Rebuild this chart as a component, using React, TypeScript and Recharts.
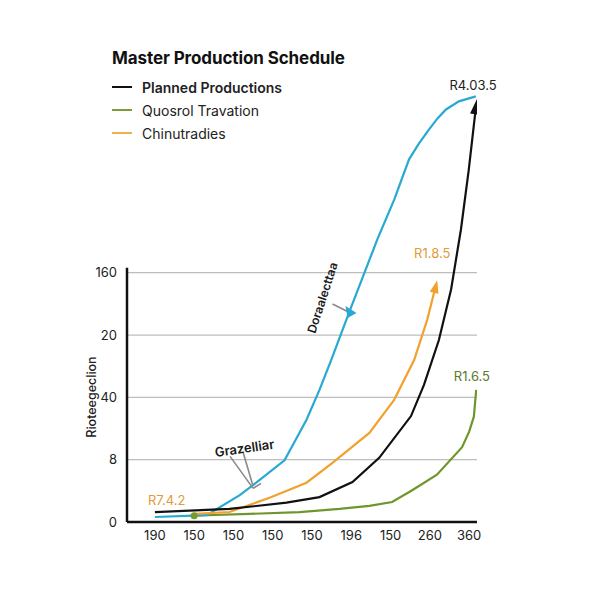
import React from 'react';
import { LineChart, Line, XAxis, YAxis, ReferenceLine, ReferenceDot } from 'recharts';

// tick labels as printed on the chart
const xLabels = ['190', '150', '150', '150', '150', '196', '150', '260', '360'];
const yLabels = ['0', '8', '40', '20', '160'];

// Planned Productions (black)
const plannedX = [0, 1.9, 3.35, 4.19, 5.03, 5.71, 6.52, 6.85, 7.23, 7.54, 7.79, 7.99, 8.18];
const plannedY = [0.16, 0.21, 0.31, 0.4, 0.64, 1.03, 1.7, 2.2, 2.92, 3.73, 4.69, 5.65, 6.7];

// Doraalecttaa (blue)
const blueX = [0, 1.32, 2.16, 2.66, 3.3, 3.86, 4.19, 4.49, 4.95, 5.66, 6.09, 6.47, 6.72, 6.98, 7.2, 7.41, 7.74, 8.17];
const blueY = [0.08, 0.11, 0.43, 0.67, 0.99, 1.64, 2.12, 2.6, 3.37, 4.53, 5.17, 5.82, 6.07, 6.3, 6.48, 6.62, 6.75, 6.83];

// Chinutradies (orange)
const orangeX = [1.02, 1.9, 2.92, 3.86, 4.52, 5.46, 6.09, 6.6, 6.93, 7.16];
const orangeY = [0.13, 0.16, 0.39, 0.63, 0.95, 1.43, 1.96, 2.6, 3.24, 3.81];

// Quosrol Travation (green)
const greenX = [0.89, 2.41, 3.68, 4.7, 5.46, 6.04, 6.55, 7.18, 7.82, 8.0, 8.12, 8.18];
const greenY = [0.1, 0.13, 0.16, 0.21, 0.26, 0.32, 0.51, 0.76, 1.2, 1.45, 1.69, 2.12];

const toSeries = (xs: number[], ys: number[]) => xs.map((x, i) => ({ x, y: ys[i] }));

const planned = toSeries(plannedX, plannedY);
const blue = toSeries(blueX, blueY);
const orange = toSeries(orangeX, orangeY);
const green = toSeries(greenX, greenY);

const BLACK = '#111111';
const BLUE = '#27a9d3';
const ORANGE = '#f2a12e';
const GREEN = '#6f962c';
const FONT = 'Inter, "Open Sans", sans-serif';

const arrowDot = (lastIndex: number, color: string, angle: number, w: number, h: number) => (p: any) => {
  if (p.index !== lastIndex) return <g key={`d-${p.index}`} />;
  return (
    <path
      key={`d-${p.index}`}
      d={`M0,${-h * 0.35} L${w / 2},${h * 0.65} L${-w / 2},${h * 0.65} Z`}
      transform={`translate(${p.cx},${p.cy}) rotate(${angle})`}
      fill={color}
    />
  );
};

const note = (text: string, color: string, opts: any = {}) => (p: any) => (
  <text
    x={p.cx + (opts.dx || 0)}
    y={p.cy + (opts.dy || 0)}
    fill={color}
    fontSize={opts.size || 13}
    fontWeight={opts.weight || 400}
    fontFamily={FONT}
    textAnchor="middle"
    dominantBaseline="central"
    transform={opts.rotate ? `rotate(${opts.rotate} ${p.cx} ${p.cy})` : undefined}
  >
    {text}
  </text>
);

const legend = [
  { name: 'Planned Productions', color: BLACK, weight: 600 },
  { name: 'Quosrol Travation', color: '#7d9b3c', weight: 400 },
  { name: 'Chinutradies', color: '#f0b04e', weight: 400 },
];

export default function App() {
  return (
    <div style={{ position: 'absolute', left: 0, top: 0, width: 600, height: 600, background: '#fff', fontFamily: FONT }}>
      <div style={{ position: 'absolute', left: 112, top: 48, fontSize: 17, fontWeight: 700, color: '#111', letterSpacing: -0.1 }}>
        Master Production Schedule
      </div>
      {legend.map((l, i) => (
        <div key={l.name} style={{ position: 'absolute', left: 112, top: 77 + i * 23, height: 20, display: 'flex', alignItems: 'center' }}>
          <div style={{ width: 20, height: 2.5, background: l.color, marginRight: 10 }} />
          <span style={{ fontSize: 14, fontWeight: l.weight, color: '#222' }}>{l.name}</span>
        </div>
      ))}
      <div
        style={{
          position: 'absolute', left: 91, top: 397, transform: 'translate(-50%, -50%) rotate(-90deg)',
          fontSize: 12.5, fontWeight: 500, color: '#222', whiteSpace: 'nowrap',
        }}
      >
        Rioteegeclion
      </div>
      <LineChart width={600} height={600} data={planned} margin={{ top: 92, right: 123, bottom: 48, left: 67 }}>
        <XAxis
          dataKey="x"
          type="number"
          domain={[-0.71, 8.2]}
          ticks={[0, 1, 2, 3, 4, 5, 6, 7, 8]}
          tickFormatter={(v: number) => xLabels[v]}
          allowDataOverflow
          axisLine={false}
          tickLine={false}
          tickSize={6}
          tickMargin={3}
          tick={{ fill: '#222', fontSize: 13, fontFamily: FONT }}
          height={30}
        />
        <YAxis
          type="number"
          domain={[0, 6.9]}
          ticks={[0, 1, 2, 3, 4]}
          tickFormatter={(v: number) => yLabels[v]}
          allowDataOverflow
          axisLine={false}
          tickLine={false}
          tickSize={6}
          tickMargin={4}
          tick={{ fill: '#222', fontSize: 13, fontFamily: FONT }}
          width={60}
        />
        {[1, 2, 3, 4].map((v) => (
          <ReferenceLine key={v} y={v} stroke="#bdbdbd" strokeWidth={1.2} />
        ))}

        <Line data={green} dataKey="y" type="linear" stroke={GREEN} strokeWidth={2.2} dot={false} isAnimationActive={false} />
        <Line data={blue} dataKey="y" type="linear" stroke={BLUE} strokeWidth={2.2} dot={false} isAnimationActive={false} />
        <Line data={orange} dataKey="y" type="linear" stroke={ORANGE} strokeWidth={2.2}
          dot={arrowDot(orange.length - 1, ORANGE, 14, 9, 13)} isAnimationActive={false} />
        <Line data={planned} dataKey="y" type="linear" stroke={BLACK} strokeWidth={2.2}
          dot={arrowDot(planned.length - 1, BLACK, 7, 10, 15)} isAnimationActive={false} />

        <ReferenceLine segment={[{ x: -0.71, y: 0 }, { x: 8.2, y: 0 }]} stroke={BLACK} strokeWidth={2.5} ifOverflow="visible" />
        <ReferenceLine segment={[{ x: -0.71, y: 0 }, { x: -0.71, y: 4.08 }]} stroke={BLACK} strokeWidth={2.5} ifOverflow="visible" />

        <ReferenceDot x={1.0} y={0.1} r={3.5} fill="#7a9a2e" stroke="none" ifOverflow="visible" />
        <ReferenceDot x={4.98} y={3.37} ifOverflow="visible"
          shape={(p: any) => (
            <g>
              <line x1={p.cx - 18} y1={p.cy - 8} x2={p.cx - 2} y2={p.cy} stroke="#888" strokeWidth={1.5} />
              <path d={`M${p.cx - 5},${p.cy - 6} L${p.cx + 6},${p.cy + 1} L${p.cx - 3},${p.cy + 6} Z`} fill={BLUE} />
            </g>
          )} />
        <ReferenceDot x={2.5} y={0.54} ifOverflow="visible"
          shape={(p: any) => (
            <g stroke="#8a8a8a" strokeWidth={1.6} fill="none">
              <line x1={p.cx - 23} y1={p.cy - 32} x2={p.cx} y2={p.cy} />
              <line x1={p.cx - 10} y1={p.cy - 36} x2={p.cx} y2={p.cy - 2} />
              <line x1={p.cx} y1={p.cy} x2={p.cx + 8} y2={p.cy - 5} />
            </g>
          )} />

        <ReferenceDot x={8.1} y={7.02} ifOverflow="visible" shape={note('R4.03.5', '#222')} />
        <ReferenceDot x={7.06} y={4.31} ifOverflow="visible" shape={note('R1.8.5', '#e39a3a')} />
        <ReferenceDot x={8.07} y={2.35} ifOverflow="visible" shape={note('R1.6.5', '#5c7a2c')} />
        <ReferenceDot x={0.3} y={0.35} ifOverflow="visible" shape={note('R7.4.2', '#e39a3a')} />
        <ReferenceDot x={2.28} y={1.19} ifOverflow="visible" shape={note('Grazelliar', '#1a1a1a', { weight: 600, rotate: -8 })} />
        <ReferenceDot x={4.26} y={3.6} ifOverflow="visible" shape={note('Doraalecttaa', '#1a1a1a', { weight: 600, size: 12, rotate: -72 })} />
      </LineChart>
    </div>
  );
}
